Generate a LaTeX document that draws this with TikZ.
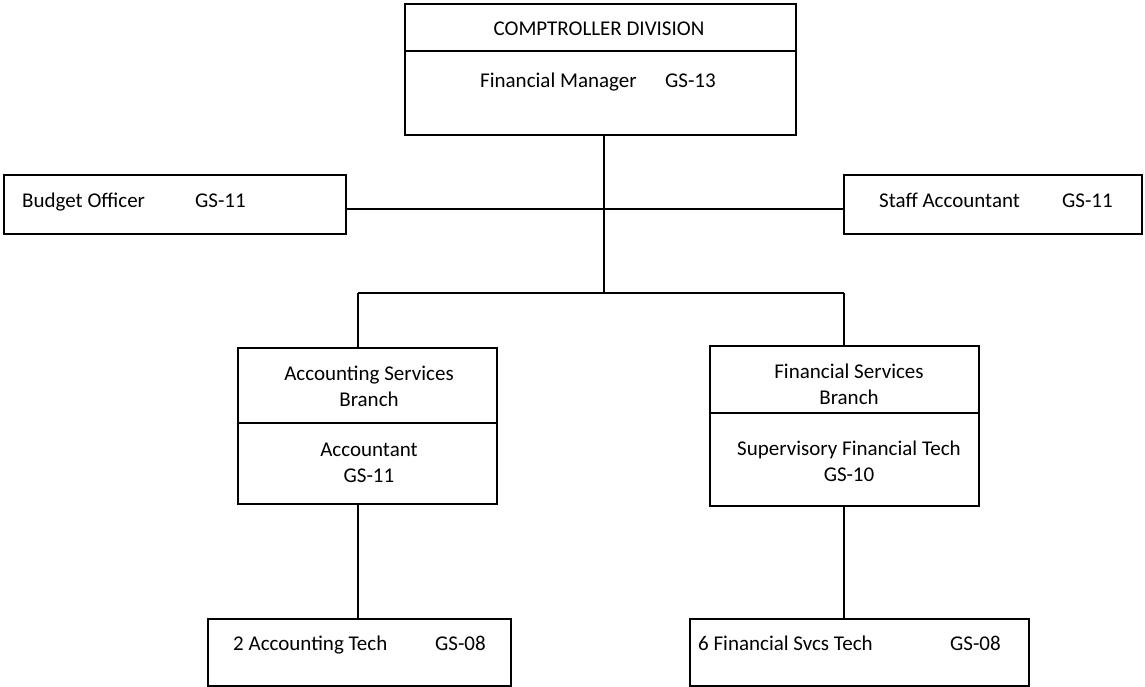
\documentclass[tikz,border=0pt]{standalone}
\usepackage{fontspec}
\setmainfont{Carlito}
\begin{document}
\begin{tikzpicture}[x=1pt,y=-1pt,
  box/.style={draw=black, line width=1.8pt, inner sep=0pt, anchor=north west},
  lbl/.style={font=\fontsize{21}{26}\selectfont, inner sep=0pt, align=center},
  conn/.style={draw=black, line width=1.8pt}]
\useasboundingbox (0,0) rectangle (1145,686);

% boxes
\node[box, minimum width=391pt, minimum height=131pt] (top) at (404,3) {};
\node[box, minimum width=342pt, minimum height=59pt] (budget) at (3,174) {};
\node[box, minimum width=298pt, minimum height=59pt] (staff) at (843,174) {};
\node[box, minimum width=259pt, minimum height=156pt] (acct) at (237,347) {};
\node[box, minimum width=269pt, minimum height=160pt] (fin) at (709,345) {};
\node[box, minimum width=303pt, minimum height=67pt] (tech1) at (207,618) {};
\node[box, minimum width=339pt, minimum height=67pt] (tech2) at (689,618) {};

% dividers inside the two-part boxes
\draw[conn] (top.west |- 0,51) -- (top.east |- 0,51);
\draw[conn] (acct.west |- 0,423) -- (acct.east |- 0,423);
\draw[conn] (fin.west |- 0,413) -- (fin.east |- 0,413);

% texts
\node[lbl, anchor=base] (tTitle) at (599,35) {COMPTROLLER DIVISION};
\node[lbl, anchor=base west] (tFM) at (480,87) {Financial Manager};
\node[lbl, anchor=base west] (tFMg) at (665,87) {GS-13};
\node[lbl, anchor=base west] (tBO) at (22,207) {Budget Officer};
\node[lbl, anchor=base west] (tBOg) at (195,207) {GS-11};
\node[lbl, anchor=base west] (tSA) at (879,207) {Staff Accountant};
\node[lbl, anchor=base west] (tSAg) at (1062,207) {GS-11};
\node[lbl] (tASB) at (369,386) {Accounting Services\\Branch};
\node[lbl] (tAcc) at (369,463) {Accountant\\GS-11};
\node[lbl] (tFSB) at (849,384) {Financial Services\\Branch};
\node[lbl] (tSFT) at (849,461) {Supervisory Financial Tech\\GS-10};
\node[lbl, anchor=base west] (tAT) at (233,650) {2 Accounting Tech};
\node[lbl, anchor=base west] (tATg) at (435,650) {GS-08};
\node[lbl, anchor=base west] (tFT) at (698,650) {6 Financial Svcs Tech};
\node[lbl, anchor=base west] (tFTg) at (950,650) {GS-08};

% junctions of the connectors
\coordinate (hubA) at (604,209);
\coordinate (hubB) at (604,293);
\coordinate (la) at (358,293);
\coordinate (ra) at (844,293);

% connectors
\draw[conn] (top.south -| hubA) -- (hubB);
\draw[conn] (budget.east |- hubA) -- (staff.west |- hubA);
\draw[conn] (la) -- (ra);
\draw[conn] (la) -- (la |- acct.north);
\draw[conn] (ra) -- (ra |- fin.north);
\draw[conn] (acct.south -| la) -- (la |- tech1.north);
\draw[conn] (fin.south -| ra) -- (ra |- tech2.north);
\end{tikzpicture}
\end{document}
